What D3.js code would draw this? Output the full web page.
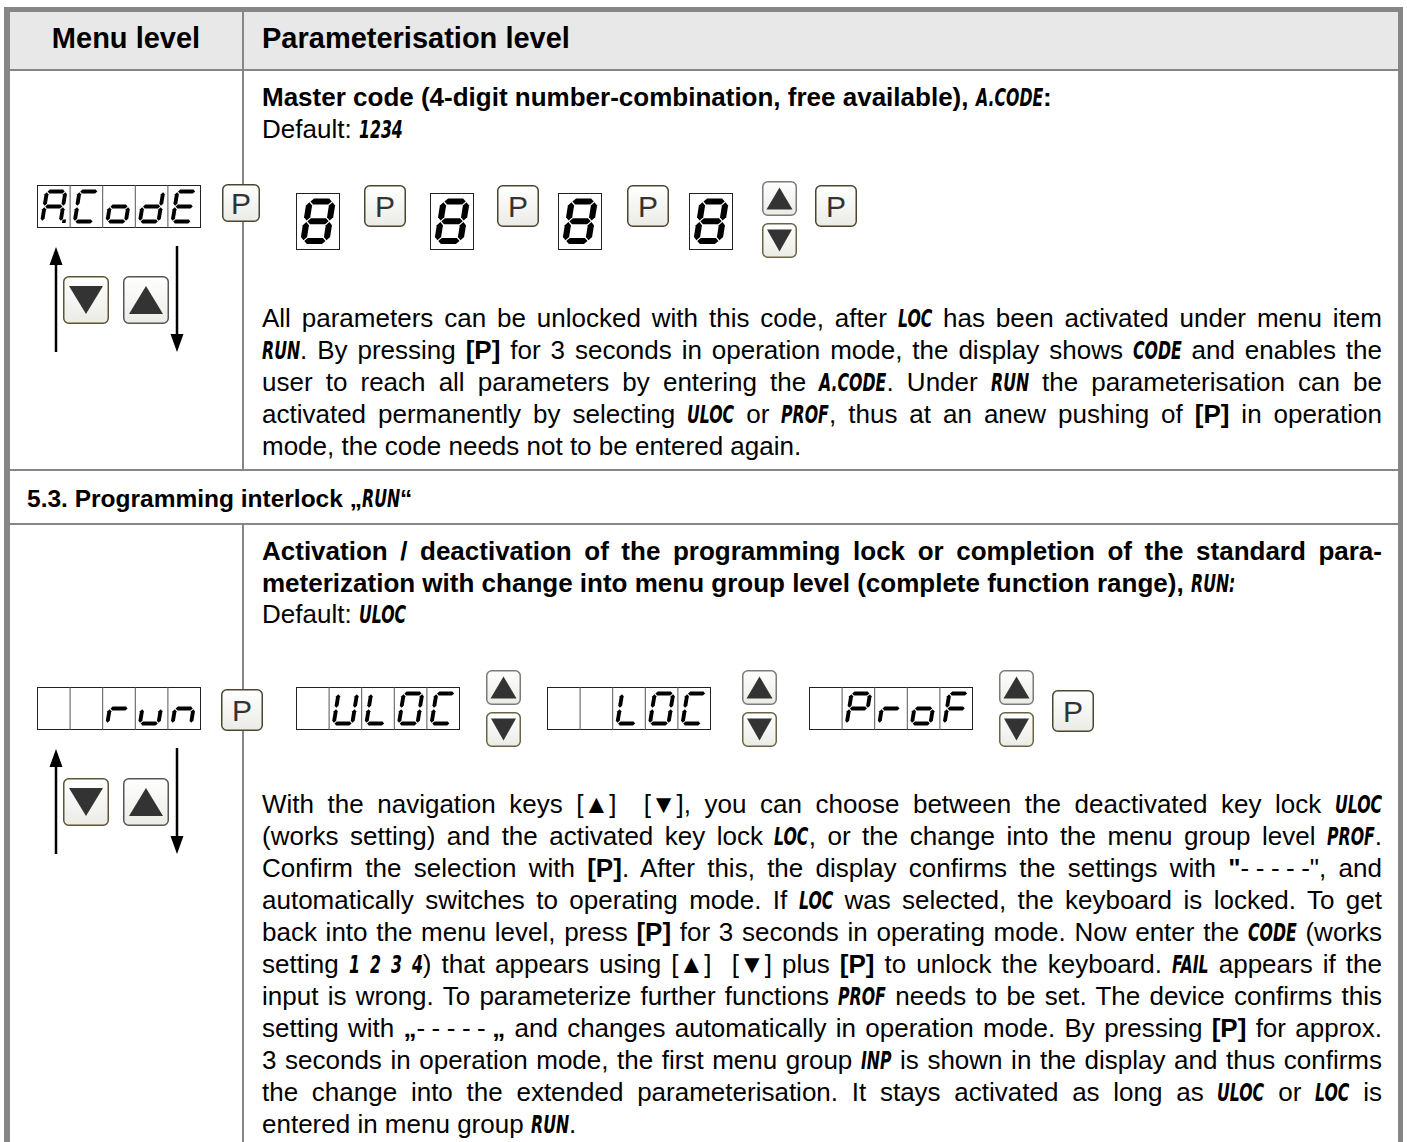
<!DOCTYPE html>
<html><head><meta charset="utf-8">
<script src="https://cdn.jsdelivr.net/npm/d3@7"></script>
<style>
body{margin:0;background:#fff;}
#page{position:relative;width:1407px;height:1142px;overflow:hidden;font-family:"Liberation Sans",Arial,sans-serif;color:#000;background:#fff;}
#page svg{position:absolute;left:0;top:0;}
.line{position:absolute;line-height:32px;white-space:nowrap;}
.b{font-weight:bold;}
.seg{font-family:"DejaVu Sans Condensed","DejaVu Sans",sans-serif;font-weight:bold;font-style:italic;font-size:25px;display:inline-block;transform-origin:0 50%;word-spacing:0;}
</style></head>
<body><div id="page"></div>
<script>
// ---------------- DATA ----------------
const headerLabels = ["Menu level", "Parameterisation level"];
const sectionTitle = "5.3. Programming interlock „{RUN}“";

const row1Heading = ["Master code (4-digit number-combination, free available), {A.CODE}:"];
const row1Default = "Default: {1234}";
const row1Body = [
  "All parameters can be unlocked with this code, after {LOC} has been activated under menu item",
  "{RUN}. By pressing *[P]* for 3 seconds in operation mode, the display shows {CODE} and enables the",
  "user to reach all parameters by entering the {A.CODE}. Under {RUN} the parameterisation can be",
  "activated permanently by selecting {ULOC} or {PROF}, thus at an anew pushing of *[P]* in operation",
  "mode, the code needs not to be entered again."
];

const row2Heading = [
  "Activation / deactivation of the programming lock or completion of the standard para-",
  "meterization with change into menu group level (complete function range), {RUN:}"
];
const row2Default = "Default: {ULOC}";
const DASHES = "-\u2005-\u2005-\u2005-\u2005-";
const row2Body = [
  "With the navigation keys [▲]\u00a0 [▼], you can choose between the deactivated key lock {ULOC}",
  "(works setting) and the activated key lock {LOC}, or the change into the menu group level {PROF}.",
  "Confirm the selection with *[P]*. After this, the display confirms the settings with *\"*" + DASHES + "\", and",
  "automatically switches to operating mode. If {LOC} was selected, the keyboard is locked. To get",
  "back into the menu level, press *[P]* for 3 seconds in operating mode. Now enter the {CODE} (works",
  "setting {1} {2} {3} {4}) that appears using [▲]\u00a0 [▼] plus *[P]* to unlock the keyboard. {FAIL} appears if the",
  "input is wrong. To parameterize further functions {PROF} needs to be set. The device confirms this",
  "setting with *„*" + DASHES + "\u2005*„* and changes automatically in operation mode. By pressing *[P]* for approx.",
  "3 seconds in operation mode, the first menu group {INP} is shown in the display and thus confirms",
  "the change into the extended parameterisation. It stays activated as long as {ULOC} or {LOC} is",
  "entered in menu group {RUN}."
];

const menuDisplay1 = ["A.", "C", "o", "d", "E"];
const menuDisplay2 = ["", "", "r", "u", "n"];
const codeDigits = ["8", "8", "8", "8"];
const row2Displays = [["", "U", "L", "O", "C"], ["", "", "L", "O", "C"], ["", "P", "r", "o", "F"]];

// seven segment maps
const segMap = {
  "8":"abcdefg","A":"abcefg","C":"adef","o":"cdeg","d":"bcdeg","E":"adefg",
  "r":"eg","u":"cde","n":"ceg","U":"bcdef","L":"def","O":"abcdef","P":"abefg","F":"aefg"
};

// ---------------- LAYOUT ----------------
const W = 1407, H = 1142;
const page = d3.select("#page");
const svg = page.append("svg").attr("width", W).attr("height", H);
const defs = svg.append("defs");
const kg = defs.append("linearGradient").attr("id","keyg").attr("x1",0).attr("y1",0).attr("x2",0).attr("y2",1);
kg.append("stop").attr("offset","0").attr("stop-color","#ffffff");
kg.append("stop").attr("offset","1").attr("stop-color","#ebebe6");

const frameColor = "#868686";
svg.append("rect").attr("x",10).attr("y",12).attr("width",1388).attr("height",57).attr("fill","#e8e8e8");
const frameRects = [
  [4,7,1399,5],[4,7,6,1135],[1398,7,5,1135],
  [10,69,1388,2],[10,469,1388,2],[10,523,1388,2],
  [242,12,2,457],[242,525,2,617]
];
svg.append("g").selectAll("rect").data(frameRects).join("rect")
  .attr("x",d=>d[0]).attr("y",d=>d[1]).attr("width",d=>d[2]).attr("height",d=>d[3]).attr("fill",frameColor);

// ---- 7-seg glyph ----
function hexSeg(x0,y0,x1,y1,t){
  const h=t/2;
  if (y0===y1) return [[x0,y0],[x0+h,y0-h],[x1-h,y0-h],[x1,y0],[x1-h,y0+h],[x0+h,y0+h]];
  return [[x0,y0],[x0+h,y0+h],[x0+h,y1-h],[x0,y1],[x0-h,y1-h],[x0-h,y0+h]];
}
function glyph(g, ch, cx, gy, gw, gh, t, gpf){
  const dot = ch.endsWith(".");
  const c = dot ? ch.slice(0,-1) : ch;
  const segs = segMap[c] || "";
  const L=cx-gw/2, R=cx+gw/2, T=gy, B=gy+gh, M=gy+gh/2, gp=t*(gpf||0.18);
  const defsS = {
    a:[L+gp,T,R-gp,T], g:[L+gp,M,R-gp,M], d:[L+gp,B,R-gp,B],
    f:[L,T+gp,L,M-gp], b:[R,T+gp,R,M-gp], e:[L,M+gp,L,B-gp], c:[R,M+gp,R,B-gp]
  };
  const gg = g.append("g").attr("transform",`translate(${cx},${M}) skewX(-9) translate(${-cx},${-M})`);
  gg.selectAll("polygon").data(segs.split("")).join("polygon")
    .attr("points", s => hexSeg(...defsS[s], t).map(p=>p.join(",")).join(" "))
    .attr("fill","#000");
  if (dot) gg.append("rect").attr("x",R+t*0.4).attr("y",B-t*0.5).attr("width",t*0.9).attr("height",t*0.9).attr("fill","#000");
}

function display(chars, x, y){
  const cw = 32.6, h = 42;
  const g = svg.append("g");
  g.append("rect").attr("x",x+0.5).attr("y",y+0.5).attr("width",cw*chars.length).attr("height",h).attr("fill","#fff").attr("stroke","#222").attr("stroke-width",1);
  g.selectAll("line").data(d3.range(1,chars.length)).join("line")
    .attr("x1",i=>x+0.5+i*cw).attr("x2",i=>x+0.5+i*cw).attr("y1",y).attr("y2",y+h+1).attr("stroke","#555").attr("stroke-width",1);
  chars.forEach((ch,i)=>{ if(ch) glyph(g, ch, x+i*cw+cw/2+0.5, y+6.5, 18.5, 30, 3.9); });
}
function bigDigit(ch, x, y){
  const g = svg.append("g");
  g.append("rect").attr("x",x+0.5).attr("y",y+0.5).attr("width",43).attr("height",56).attr("fill","#fff").attr("stroke","#222");
  glyph(g, ch, x+22, y+8.5, 23, 39.5, 6.2, 0.14);
}
function keyBox(x,y,w,h,stroke){
  return svg.append("rect").attr("x",x+0.75).attr("y",y+0.75).attr("width",w-1.5).attr("height",h-1.5)
    .attr("rx",5).attr("fill","url(#keyg)").attr("stroke",stroke).attr("stroke-width",1.5);
}
function pKey(x,y,w,h){
  keyBox(x,y,w,h,"#4c4530");
  svg.append("text").attr("x",x+w/2).attr("y",y+h/2+10.5).attr("text-anchor","middle")
    .attr("font-family","Liberation Sans, Arial, sans-serif").attr("font-size",30).attr("fill","#333").text("P");
}
function triKey(x,y,w,h,dir,stroke,tw,th){
  keyBox(x,y,w,h,stroke);
  const cx=x+w/2, cy=y+h/2;
  const pts = dir==="up" ? [[cx,cy-th/2],[cx+tw/2,cy+th/2],[cx-tw/2,cy+th/2]] : [[cx,cy+th/2],[cx+tw/2,cy-th/2],[cx-tw/2,cy-th/2]];
  svg.append("polygon").attr("points",pts.map(p=>p.join(",")).join(" ")).attr("fill","#333");
}
function upDown(x,y){
  triKey(x,y,35,35,"up","#7a7a7a",26,22);
  triKey(x,y+42,35,35,"down","#6a6446",25,22);
}
function menuNav(dy){
  const g = svg.append("g");
  g.append("line").attr("x1",56).attr("x2",56).attr("y1",262+dy).attr("y2",352+dy).attr("stroke","#000").attr("stroke-width",2.5);
  g.append("polygon").attr("points",`56,${247+dy} 62.5,${265+dy} 49.5,${265+dy}`).attr("fill","#000");
  g.append("line").attr("x1",177).attr("x2",177).attr("y1",246+dy).attr("y2",337+dy).attr("stroke","#000").attr("stroke-width",2.5);
  g.append("polygon").attr("points",`177,${352+dy} 183.5,${334+dy} 170.5,${334+dy}`).attr("fill","#000");
  triKey(63,276+dy,46,48,"down","#5c5434",34,28);
  triKey(123,276+dy,46,48,"up","#555",34,28);
}

// row 1 graphics
display(menuDisplay1, 37, 185);
menuNav(0);
pKey(222,184,38,38);
const digitX = [296, 430, 558, 689];
const pKeyX = [364, 497, 627];
codeDigits.forEach((d,i)=>bigDigit(d, digitX[i], 193));
pKeyX.forEach(x=>pKey(x,185,42,42));
upDown(762,181);
pKey(815,185,42,42);

// row 2 graphics
display(menuDisplay2, 37, 687);
menuNav(502);
pKey(221,689,42,42);
const r2DispX = [296, 547, 809];
const r2UdX = [486, 742, 999];
row2Displays.forEach((d,i)=>{ display(d, r2DispX[i], 687); upDown(r2UdX[i], 670); });
pKey(1052,690,42,42);

// ---------------- TEXT ----------------
const SEG_SCALE = 0.7;
function parse(t){
  return t.split(/(\{[^}]*\}|\*[^*]*\*)/g).filter(s=>s.length).map(s=>{
    if (s[0]==="{") return {cls:"seg", s:s.slice(1,-1)};
    if (s[0]==="*") return {cls:"b", s:s.slice(1,-1)};
    return {cls:null, s};
  });
}
function textLine(t, x, y, opt){
  opt = opt||{};
  const size = opt.size||26;
  const div = page.append("div").attr("class","line")
    .style("left",x+"px").style("top",y+"px").style("font-size",size+"px")
    .style("font-weight",opt.bold?"bold":"normal");
  if (opt.width) div.style("width",opt.width+"px");
  if (opt.center) div.style("text-align","center");
  const span = div.append("span");
  let segSpaces = 0;
  parse(t).forEach(tok=>{
    const s=span.append("span").text(tok.s);
    if(tok.cls) s.attr("class",tok.cls);
    if(tok.cls==="seg"){
      segSpaces += (tok.s.match(/ /g)||[]).length;
      const w = s.node().getBoundingClientRect().width;
      s.style("transform",`scaleX(${SEG_SCALE})`).style("margin-right",(-(1-SEG_SCALE)*w)+"px");
    }
  });
  if (opt.justify){
    const nat = span.node().getBoundingClientRect().width;
    const n = (span.text().replace(/ +/g," ").match(/[ \u00a0]/g)||[]).length - segSpaces;
    if (n) div.style("word-spacing", ((opt.width-nat)/n)+"px");
  }
}
const TX = 262, TW = 1120;
textLine(headerLabels[0], 10, 22, {bold:true, size:29, width:232, center:true});
textLine(headerLabels[1], TX, 22, {bold:true, size:29});

row1Heading.forEach((t,i)=>textLine(t, TX, 81+32*i, {bold:true}));
textLine(row1Default, TX, 113);
row1Body.forEach((t,i)=>textLine(t, TX, 302+32*i, {justify: i<row1Body.length-1, width:TW}));

textLine(sectionTitle, 27, 483, {bold:true, size:24.5});
row2Heading.forEach((t,i)=>textLine(t, TX, 535+32*i, {bold:true, justify:i===0, width:TW}));
textLine(row2Default, TX, 598);
row2Body.forEach((t,i)=>textLine(t, TX, 788+32*i, {justify: i<row2Body.length-1, width:TW}));
</script>
</body></html>
